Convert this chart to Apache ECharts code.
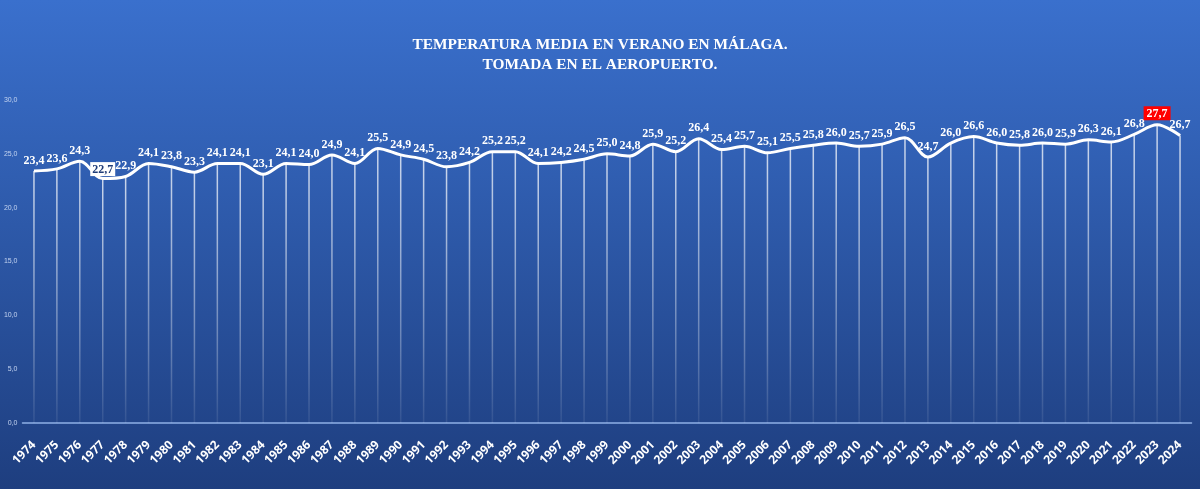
<!DOCTYPE html>
<html>
<head>
<meta charset="utf-8">
<script src="https://cdn.jsdelivr.net/npm/echarts@6/dist/echarts.min.js"></script>
<style>
  html, body { margin: 0; padding: 0; }
  #chart { width: 1200px; height: 489px; }
</style>
</head>
<body>
<div id="chart"></div>
<script>
var years = ['1974','1975','1976','1977','1978','1979','1980','1981','1982','1983',
  '1984','1985','1986','1987','1988','1989','1990','1991','1992','1993',
  '1994','1995','1996','1997','1998','1999','2000','2001','2002','2003',
  '2004','2005','2006','2007','2008','2009','2010','2011','2012','2013',
  '2014','2015','2016','2017','2018','2019','2020','2021','2022','2023','2024'];
var temps = [23.4, 23.6, 24.3, 22.7, 22.9, 24.1, 23.8, 23.3, 24.1, 24.1,
  23.1, 24.1, 24.0, 24.9, 24.1, 25.5, 24.9, 24.5, 23.8, 24.2,
  25.2, 25.2, 24.1, 24.2, 24.5, 25.0, 24.8, 25.9, 25.2, 26.4,
  25.4, 25.7, 25.1, 25.5, 25.8, 26.0, 25.7, 25.9, 26.5, 24.7,
  26.0, 26.6, 26.0, 25.8, 26.0, 25.9, 26.3, 26.1, 26.8, 27.7, 26.7];
var minYear = '1977';
var maxYear = '2023';

var dom = document.getElementById('chart');
var myChart = echarts.init(dom);

// points with a special label box (lowest and highest)
var lineData = temps.map(function (v, i) {
    var item = { value: v };
    if (years[i] === minYear) {
        item.label = {
            backgroundColor: '#ffffff',
            color: '#1f3c78',
            padding: [2, 2, 0, 2],
            distance: 2
        };
    } else if (years[i] === maxYear) {
        item.label = {
            backgroundColor: '#ff0000',
            color: '#ffffff',
            padding: [2, 3, 0, 3],
            distance: 4
        };
    }
    return item;
});

var option = {
    backgroundColor: new echarts.graphic.LinearGradient(0, 0, 0, 1, [
        { offset: 0, color: '#3a70cd' },
        { offset: 1, color: '#1e3e7f' }
    ]),
    title: {
        text: 'TEMPERATURA MEDIA EN VERANO EN MÁLAGA.\nTOMADA EN EL AEROPUERTO.',
        left: 'center',
        top: 30,
        textStyle: {
            color: '#ffffff',
            fontFamily: 'Liberation Serif',
            fontWeight: 'bold',
            fontSize: 15.4,
            lineHeight: 20
        }
    },
    grid: {
        left: 22.5,
        right: 8.5,
        top: 100,
        bottom: 66
    },
    xAxis: {
        type: 'category',
        data: years,
        boundaryGap: true,
        axisLine: { lineStyle: { color: '#8fb0e6', width: 1.5 } },
        axisTick: { show: false },
        axisLabel: {
            rotate: 45,
            interval: 0,
            color: '#ffffff',
            fontFamily: 'Open Sans',
            fontWeight: 'bold',
            fontSize: 12,
            margin: 20
        }
    },
    yAxis: {
        type: 'value',
        min: 0,
        max: 30,
        interval: 5,
        splitLine: { show: false },
        axisLine: { show: false },
        axisTick: { show: false },
        axisLabel: {
            color: '#c3d3f0',
            fontSize: 7,
            margin: 5,
            formatter: function (v) { return v.toFixed(1).replace('.', ','); }
        }
    },
    series: [
        {
            // thin drop lines from the curve to the axis
            type: 'bar',
            data: temps,
            barWidth: 1.5,
            silent: true,
            itemStyle: {
                color: new echarts.graphic.LinearGradient(0, 0, 0, 1, [
                    { offset: 0, color: 'rgba(255,255,255,0.75)' },
                    { offset: 0.7, color: 'rgba(255,255,255,0.3)' },
                    { offset: 1, color: 'rgba(255,255,255,0.08)' }
                ])
            }
        },
        {
            type: 'line',
            data: lineData,
            smooth: 0.35,
            showSymbol: true,
            symbol: 'circle',
            symbolSize: 1,
            itemStyle: { color: 'rgba(255,255,255,0)' },
            lineStyle: { color: '#ffffff', width: 3 },
            label: {
                show: true,
                position: 'top',
                distance: 4,
                color: '#ffffff',
                fontFamily: 'Liberation Serif',
                fontWeight: 'bold',
                fontSize: 12,
                formatter: function (p) { return p.value.toFixed(1).replace('.', ','); }
            },
            z: 3
        }
    ]
};

if (option && typeof option === 'object') {
    myChart.setOption(option, true);
}
</script>
</body>
</html>
